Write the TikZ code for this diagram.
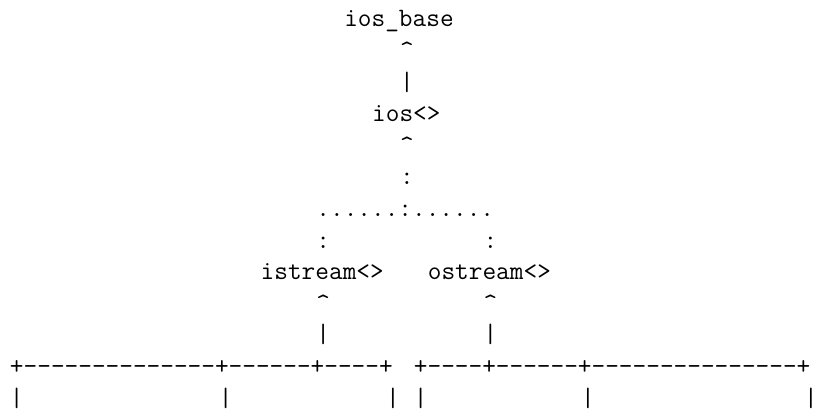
\documentclass[tikz,border=0pt]{standalone}
\usepackage{fontspec}
\setmonofont{Latin Modern Mono}
\tikzset{asc/.style={anchor=base west, inner sep=0pt, outer sep=0pt, font=\ttfamily\fontsize{13.27}{16}\selectfont}}
\newcommand\cw{13.93}
\newcommand\ca{\textasciicircum}
\begin{document}
\begin{tikzpicture}[x=0.5pt,y=-0.5pt]
\useasboundingbox (0,0) rectangle (813,410);
% line 1
\node[asc] (iosbase) at ({10+\cw*24},27) {ios\_base};
% line 2-3
\node[asc] (c2) at ({10+\cw*28},{27+1*31.6}) {\ca};
\node[asc] (b3) at ({10+\cw*28},{27+2*31.6}) {|};
% line 4
\node[asc] (ios) at ({10+\cw*26},{27+3*31.6}) {ios<>};
% line 5-6
\node[asc] (c5) at ({10+\cw*28},{27+4*31.6}) {\ca};
\node[asc] (k6) at ({10+\cw*28},{27+5*31.6}) {:};
% line 7
\node[asc] (dots) at ({10+\cw*22},{27+6*31.6}) {......:......};
% line 8
\node[asc] (k8l) at ({10+\cw*22},{27+7*31.6}) {:};
\node[asc] (k8r) at ({10+\cw*34},{27+7*31.6}) {:};
% line 9
\node[asc] (istream) at ({10+\cw*18},{27+8*31.6}) {istream<>};
\node[asc] (ostream) at ({10+\cw*30},{27+8*31.6}) {ostream<>};
% line 10-11
\node[asc] (c10l) at ({10+\cw*22},{27+9*31.6}) {\ca};
\node[asc] (c10r) at ({10+\cw*34},{27+9*31.6}) {\ca};
\node[asc] (b11l) at ({10+\cw*22},{27+10*31.6}) {|};
\node[asc] (b11r) at ({10+\cw*34},{27+10*31.6}) {|};
% line 12
\node[asc] (rowl) at ({10+\cw*0},{27+11*31.6}) {+--------------+------+----+};
\node[asc] (rowr) at ({10+\cw*29},{27+11*31.6}) {+----+------+---------------+};
% line 13
\foreach \c/\n in {0/a,15/b,27/c,29/d,41/e,57/f}
  \node[asc] (b13\n) at ({10+\cw*\c},{27+12*31.6}) {|};
\end{tikzpicture}
\end{document}
